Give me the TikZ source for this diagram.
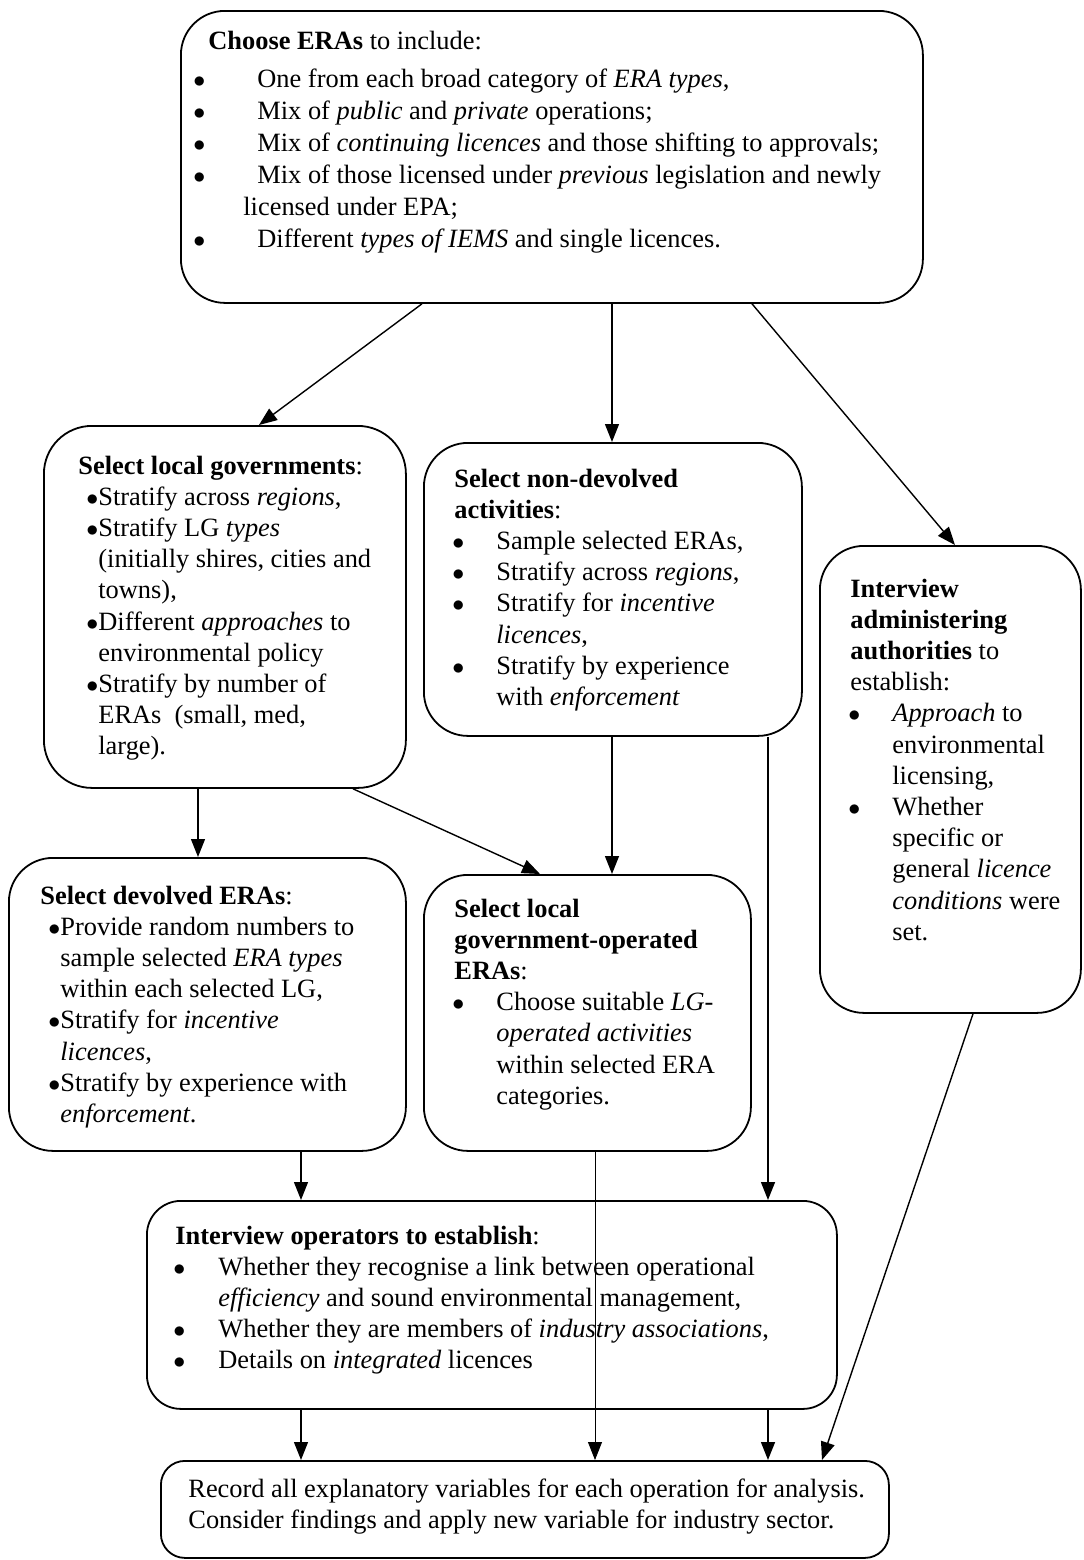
\documentclass[tikz,border=0pt]{standalone}
\usepackage{fontspec}
\setmainfont{Liberation Serif}
\usetikzlibrary{arrows.meta,calc}
% bullet line: width of bullet box, hanging indent
\newcommand{\itm}[2]{\par\noindent\hangindent=#2\hangafter=1\relax\makebox[#1][l]{\hspace*{-1pt}$\bullet$}\ignorespaces}

\begin{document}
\begin{tikzpicture}[x=0.5pt,y=-0.5pt,
    stage/.style={draw, line width=0.9pt, rounded corners=22pt, anchor=north west, inner sep=0pt},
    txt/.style={anchor=base west, inner sep=0pt, font=\fontsize{13.2}{15.6}\selectfont},
    arr/.style={-{Triangle[length=9pt,width=7pt]}, line width=0.7pt}]
  \useasboundingbox (0,0) rectangle (1083,1560);

  % boxes
  \node[stage, minimum width=371pt, minimum height=146pt] (choose) at (180,10) {};
  \node[stage, minimum width=181pt, minimum height=181pt, rounded corners=24pt] (lg) at (43,425) {};
  \node[stage, minimum width=189pt, minimum height=146.5pt] (nondev) at (423,442) {};
  \node[stage, minimum width=130.5pt, minimum height=233.5pt] (admin) at (819,545) {};
  \node[stage, minimum width=198.5pt, minimum height=146.5pt] (dev) at (8,857) {};
  \node[stage, minimum width=163.5pt, minimum height=138pt] (lgop) at (423,874) {};
  \node[stage, minimum width=345pt, minimum height=104pt, rounded corners=17pt] (ops) at (146,1200) {};
  \node[stage, minimum width=364pt, minimum height=48.5pt, rounded corners=12pt] (rec) at (160,1460) {};

  % texts
  \node[txt] (choose-t) at (195,49) {\parbox[t]{360pt}{\fontsize{13.2}{16}\selectfont\rightskip=0pt plus 1fil
    \hspace*{6.5pt}\textbf{Choose ERAs} to include:\par\vspace{3pt}
    \itm{31pt}{24pt}One from each broad category of \textit{ERA types},
    \itm{31pt}{24pt}Mix of \textit{public} and \textit{private} operations;
    \itm{31pt}{24pt}Mix of \textit{continuing licences} and those shifting to approvals;
    \itm{31pt}{24pt}Mix of those licensed under \textit{previous} legislation and newly\\ licensed under EPA;
    \itm{31pt}{24pt}Different \textit{types of IEMS} and single licences.}};
  \node[txt] (lg-t) at (88,474) {\parbox[t]{158pt}{\rightskip=0pt plus 1fil
    \hspace*{-5pt}\textbf{Select local governments}:
    \itm{5pt}{5pt}Stratify across \textit{regions},
    \itm{5pt}{5pt}Stratify LG \textit{types}\\ (initially shires, cities and\\ towns),
    \itm{5pt}{5pt}Different \textit{approaches} to\\ environmental policy
    \itm{5pt}{5pt}Stratify by number of\\ ERAs\ \ (small, med,\\ large).}};
  \node[txt] (nondev-t) at (454,487) {\parbox[t]{165pt}{\rightskip=0pt plus 1fil
    \textbf{Select non-devolved}\\ \textbf{activities}:
    \itm{21pt}{21pt}Sample selected ERAs,
    \itm{21pt}{21pt}Stratify across \textit{regions},
    \itm{21pt}{21pt}Stratify for \textit{incentive}\\ \textit{licences},
    \itm{21pt}{21pt}Stratify by experience\\ with \textit{enforcement}}};
  \node[txt] (admin-t) at (850,597) {\parbox[t]{118pt}{\rightskip=0pt plus 1fil
    \textbf{Interview}\\ \textbf{administering}\\ \textbf{authorities} to\\ establish:
    \itm{21pt}{21pt}\textit{Approach} to\\ environmental\\ licensing,
    \itm{21pt}{21pt}Whether\\ specific or\\ general \textit{licence}\\ \textit{conditions} were\\ set.}};
  \node[txt] (dev-t) at (50,904) {\parbox[t]{170pt}{\rightskip=0pt plus 1fil
    \hspace*{-5pt}\textbf{Select devolved ERAs}:
    \itm{5pt}{5pt}Provide random numbers to\\ sample selected \textit{ERA types}\\ within each selected LG,
    \itm{5pt}{5pt}Stratify for \textit{incentive}\\ \textit{licences},
    \itm{5pt}{5pt}Stratify by experience with\\ \textit{enforcement}.}};
  \node[txt] (lgop-t) at (454,917) {\parbox[t]{145pt}{\rightskip=0pt plus 1fil
    \textbf{Select local}\\ \textbf{government-operated}\\ \textbf{ERAs}:
    \itm{21pt}{21pt}Choose suitable \textit{LG-}\\ \textit{operated activities}\\ within selected ERA\\ categories.}};
  \node[txt] (ops-t) at (175,1244) {\parbox[t]{320pt}{\rightskip=0pt plus 1fil
    \textbf{Interview operators to establish}:
    \itm{21.5pt}{21.5pt}Whether they recognise a link between operational\\ \textit{efficiency} and sound environmental management,
    \itm{21.5pt}{21.5pt}Whether they are members of \textit{industry associations},
    \itm{21.5pt}{21.5pt}Details on \textit{integrated} licences}};
  \node[txt] (rec-t) at (188,1497) {\parbox[t]{355pt}{\rightskip=0pt plus 1fil
    Record all explanatory variables for each operation for analysis.\\
    Consider findings and apply new variable for industry sector.}};

  % connectors
  \draw[arr] ($(choose.south west)+(242,0)$) -- ($(lg.north west)+(216,0)$);
  \draw[arr] ($(choose.south west)+(432,0)$) -- ($(nondev.north west)+(189,0)$);
  \draw[arr] ($(choose.south west)+(572,0)$) -- ($(admin.north west)+(136,0)$);
  \draw[arr] ($(lg.south west)+(155,0)$) -- ($(dev.north west)+(190,0)$);
  \draw[arr] ($(lg.south west)+(310,0)$) -- ($(lgop.north west)+(117,0)$);
  \draw[arr] ($(nondev.south west)+(189,0)$) -- ($(lgop.north west)+(189,0)$);
  \draw[arr] ($(nondev.south west)+(345,0)$) -- ($(ops.north west)+(622,0)$);
  \draw[arr] ($(dev.south west)+(293,0)$) -- ($(ops.north west)+(155,0)$);
  \draw[arr, line width=0.4pt] ($(lgop.south west)+(172,0)$) -- ($(rec.north west)+(435,0)$);
  \draw[arr] ($(ops.south west)+(155,0)$) -- ($(rec.north west)+(141,0)$);
  \draw[arr] ($(ops.south west)+(622,0)$) -- ($(rec.north west)+(608,0)$);
  \draw[arr] ($(admin.south west)+(154,0)$) -- ($(rec.north west)+(662,0)$);
\end{tikzpicture}
\end{document}
